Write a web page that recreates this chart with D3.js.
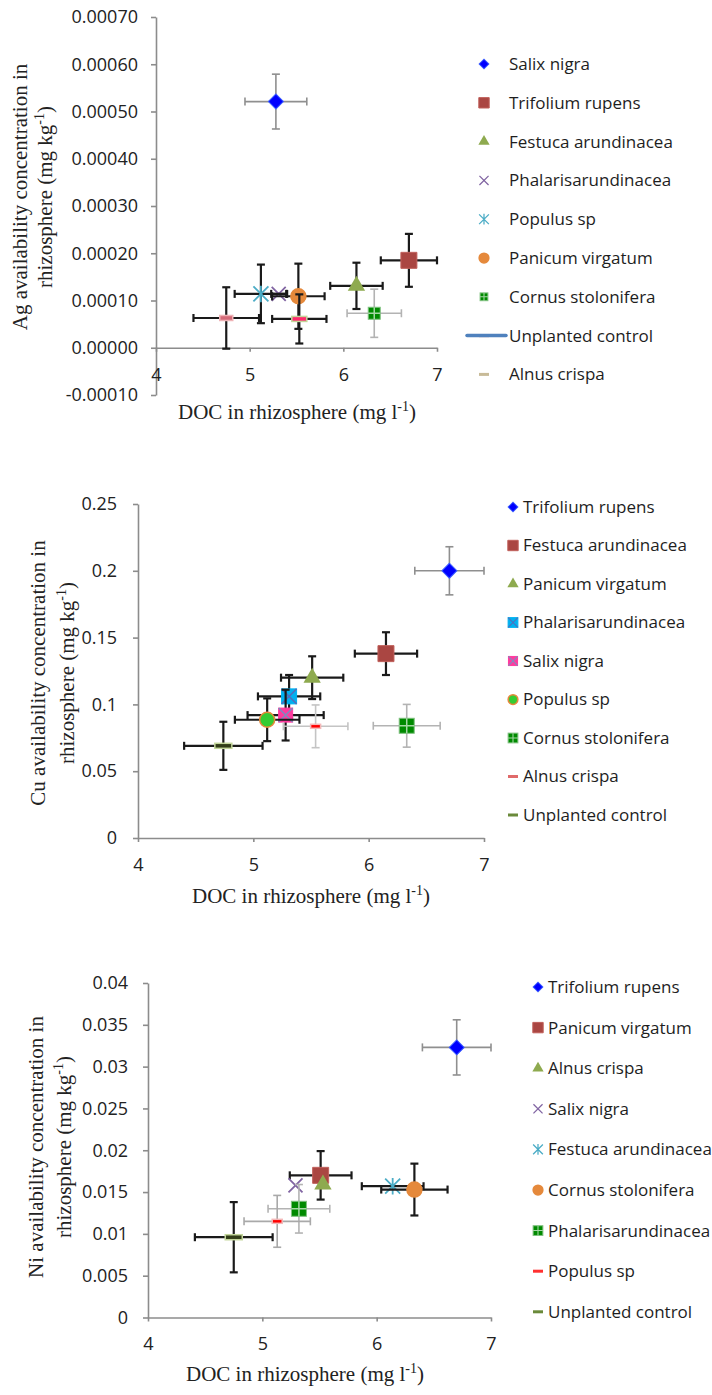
<!DOCTYPE html>
<meta charset="utf-8">
<head>
  <style>
    body { margin: 0; background: #fff; }
    .axis text { font-family: "Open Sans", sans-serif; font-size: 18px; fill: #222; }
    .axis-title { font-family: "Liberation Serif", serif; font-size: 21px; fill: #222; }
    .legend text { font-family: "Open Sans", sans-serif; font-size: 17px; fill: #1e1e1e; }
  </style>
</head>
<body>
<svg id="chart" width="712" height="1395"></svg>
<script src="https://d3js.org/d3.v7.min.js"></script>
<script>

var docTicks = [4, 5, 6, 7];

// Ag panel
var agSpecies = ["Salix nigra", "Trifolium rupens", "Festuca arundinacea", "Phalarisarundinacea", "Populus sp",
                 "Panicum virgatum", "Cornus stolonifera", "Unplanted control", "Alnus crispa"];
var agDoc     = [5.28, 6.70, 6.14, 5.31, 5.12, 5.52, 6.33, 4.75, 5.53];
var agDocErr  = [0.33, 0.30, 0.28, 0.08, 0.28, 0.28, 0.29, 0.35, 0.29];
var agConc    = [0.000521, 0.000185, 0.000131, 0.000114, 0.000114, 0.000109, 0.000073, 0.000063, 0.000061];
var agConcErr = [0.000058, 0.000056, 0.000049, 0, 0.000062, 0.000069, 0.000051, 0.000065, 0.000052];
var agTicks   = [-0.0001, 0, 0.0001, 0.0002, 0.0003, 0.0004, 0.0005, 0.0006, 0.0007];

// Cu panel
var cuSpecies = ["Trifolium rupens", "Festuca arundinacea", "Panicum virgatum", "Phalarisarundinacea", "Salix nigra",
                 "Populus sp", "Cornus stolonifera", "Alnus crispa", "Unplanted control"];
var cuDoc     = [6.70, 6.15, 5.51, 5.31, 5.28, 5.12, 6.33, 5.54, 4.74];
var cuDocErr  = [0.30, 0.27, 0.27, 0.27, 0.33, 0.28, 0.29, 0.28, 0.34];
var cuConc    = [0.200, 0.138, 0.120, 0.106, 0.092, 0.0885, 0.084, 0.0836, 0.069];
var cuConcErr = [0.018, 0.016, 0.016, 0.016, 0.019, 0.016, 0.016, 0.016, 0.018];
var cuTicks   = [0, 0.05, 0.1, 0.15, 0.2, 0.25];

// Ni panel
var niSpecies = ["Trifolium rupens", "Panicum virgatum", "Alnus crispa", "Salix nigra", "Festuca arundinacea",
                 "Cornus stolonifera", "Phalarisarundinacea", "Populus sp", "Unplanted control"];
var niDoc     = [6.70, 5.51, 5.53, 5.29, 6.14, 6.33, 5.32, 5.13, 4.75];
var niDocErr  = [0.30, 0.27, 0, 0, 0.27, 0.29, 0.27, 0.29, 0.34];
var niConc    = [0.0323, 0.0170, 0.0159, 0.0158, 0.0157, 0.0153, 0.0130, 0.0115, 0.0096];
var niConcErr = [0.0033, 0.0029, 0, 0, 0, 0.0031, 0.0029, 0.0031, 0.0042];
var niTicks   = [0, 0.005, 0.01, 0.015, 0.02, 0.025, 0.03, 0.035, 0.04];

// marker styles (kept apart from the values)
var blueDiamond = { shape: "diamond", size: 15, fill: "#0000ff", stroke: "#3a5cff", bar: "#8f8f8f", barW: 1.6 };
var brownSquare = { shape: "square", size: 16, fill: "#aa4642", stroke: "#c0605b", bar: "#1a1a1a", barW: 2.2 };
var greenTri    = { shape: "triangle", size: 17, fill: "#8eaa4f", stroke: "#8eaa4f", bar: "#1a1a1a", barW: 2.2 };
var purpleX     = { shape: "x", size: 14, stroke: "#8064a2", bar: "#1a1a1a", barW: 2.2 };
var cyanStar    = { shape: "asterisk", size: 15, stroke: "#4bacc6", bar: "#1a1a1a", barW: 2.2 };
var orangeDot   = { shape: "circle", size: 15, fill: "#e5893b", stroke: "#e5893b", bar: "#1a1a1a", barW: 2.2 };
var greenCross  = { shape: "squarecross", size: 14, fill: "#008a00", cross: "#a5d7a5", bar: "#b3b3b3", barW: 1.6 };

var agStyle = [blueDiamond, brownSquare, greenTri,
  Object.assign({}, purpleX), cyanStar, orangeDot,
  Object.assign({}, greenCross, { size: 12 }),
  { shape: "dash", w: 13, h: 5, fill: "#d46a78", stroke: "#efb3b6", bar: "#1a1a1a", barW: 2.2,
    legend: { line: "#4f81bd", fill: "#a84a3f" } },
  { shape: "dash", w: 15, h: 5, fill: "#ff2a6d", stroke: "#c3d69b", bar: "#1a1a1a", barW: 2.2,
    legend: { fill: "#c8bb98" } }];

var cuStyle = [blueDiamond, brownSquare, greenTri,
  { shape: "squarex", size: 15, fill: "#00b0f0", cross: "#4f6fbd", bar: "#1a1a1a", barW: 2.2 },
  { shape: "squarex", size: 14, fill: "#ff3a9e", cross: "#7d8cc0", bar: "#1a1a1a", barW: 2.2 },
  { shape: "circle", size: 15, fill: "#33cc33", stroke: "#e5893b", bar: "#1a1a1a", barW: 2.2 },
  Object.assign({}, greenCross, { size: 15 }),
  { shape: "dash", w: 10, h: 4, fill: "#ff0000", stroke: "#f4b8b8", bar: "#c4c4c4", barW: 1.6,
    legend: { fill: "#e06a6a" } },
  { shape: "dash", w: 17, h: 5, fill: "#323d18", stroke: "#c3d69b", bar: "#1a1a1a", barW: 2.2,
    legend: { fill: "#6a8a3a" } }];

var niStyle = [blueDiamond, brownSquare, greenTri, purpleX, cyanStar, orangeDot,
  Object.assign({}, greenCross, { size: 15 }),
  { shape: "dash", w: 10, h: 4, fill: "#ff0000", stroke: "#f4b8b8", bar: "#a9a9a9", barW: 1.6,
    legend: { fill: "#ff3030" } },
  { shape: "dash", w: 17, h: 5, fill: "#323d18", stroke: "#c3d69b", bar: "#1a1a1a", barW: 2.2,
    legend: { fill: "#6a8a3a" } }];

var sciFmt = function(d) { return d.toFixed(5); };
var plainFmt = function(d) { return String(+d.toFixed(4)); };

var panels = [
  { metal: "Ag", species: agSpecies, doc: agDoc, docErr: agDocErr, conc: agConc, concErr: agConcErr, style: agStyle,
    yTicks: agTicks, yDomain: [-0.0001, 0.0007], fmt: sciFmt,
    xRange: [156, 437], yRange: [395, 17], xPad: 16, yPad: 13,
    yTitle: { x1: 27, x2: 52, cy: 197 }, xTitle: { cx: 297, y: 419 },
    legend: { mx: 484, tx: 509, y0: 64, dy: 38.8 } },
  { metal: "Cu", species: cuSpecies, doc: cuDoc, docErr: cuDocErr, conc: cuConc, concErr: cuConcErr, style: cuStyle,
    yTicks: cuTicks, yDomain: [0, 0.25], fmt: plainFmt,
    xRange: [138, 484], yRange: [838, 504], xPad: 16, yPad: 16,
    yTitle: { x1: 45, x2: 74, cy: 673 }, xTitle: { cx: 311, y: 903 },
    legend: { mx: 513, tx: 523, y0: 507, dy: 38.5 } },
  { metal: "Ni", species: niSpecies, doc: niDoc, docErr: niDocErr, conc: niConc, concErr: niConcErr, style: niStyle,
    yTicks: niTicks, yDomain: [0, 0.04], fmt: plainFmt,
    xRange: [148, 491], yRange: [1317.5, 983], xPad: 16, yPad: 15,
    yTitle: { x1: 43, x2: 71, cy: 1147 }, xTitle: { cx: 305, y: 1381 },
    legend: { mx: 538, tx: 548, y0: 987, dy: 40.6 } }
];

var svg = d3.select("#chart");

function drawMarker(g, st, scale) {
  var k = scale || 1;
  var s = (st.size || 10) * k;
  if (st.shape == "diamond") {
    g.append("path").attr("d", d3.symbol(d3.symbolSquare, s * s / 2)())
      .attr("transform", "rotate(45)").attr("fill", st.fill).attr("stroke", st.stroke).attr("stroke-width", 1);
  } else if (st.shape == "square") {
    g.append("path").attr("d", d3.symbol(d3.symbolSquare, s * s)())
      .attr("fill", st.fill).attr("stroke", st.stroke).attr("stroke-width", 1);
  } else if (st.shape == "triangle") {
    g.append("path").attr("d", d3.symbol(d3.symbolTriangle, s * s * 0.45)())
      .attr("fill", st.fill);
  } else if (st.shape == "circle") {
    g.append("circle").attr("r", s / 2).attr("fill", st.fill).attr("stroke", st.stroke).attr("stroke-width", 1.5);
  } else if (st.shape == "x" || st.shape == "asterisk") {
    var h = s / 2;
    var p = d3.path();
    p.moveTo(-h, -h); p.lineTo(h, h); p.moveTo(-h, h); p.lineTo(h, -h);
    if (st.shape == "asterisk") { p.moveTo(0, -h * 1.1); p.lineTo(0, h * 1.1); }
    g.append("path").attr("d", p.toString()).attr("fill", "none").attr("stroke", st.stroke).attr("stroke-width", 1.8 * Math.max(k, 0.7));
  } else if (st.shape == "squarecross" || st.shape == "squarex") {
    var h2 = s / 2;
    g.append("rect").attr("x", -h2).attr("y", -h2).attr("width", s).attr("height", s)
      .attr("fill", st.fill).attr("stroke", st.shape == "squarex" ? st.fill : "#7fc07f").attr("stroke-width", 1);
    var q = d3.path();
    if (st.shape == "squarecross") { q.moveTo(-h2, 0); q.lineTo(h2, 0); q.moveTo(0, -h2); q.lineTo(0, h2); }
    else { q.moveTo(-h2, -h2); q.lineTo(h2, h2); q.moveTo(-h2, h2); q.lineTo(h2, -h2); }
    g.append("path").attr("d", q.toString()).attr("stroke", st.cross).attr("stroke-width", 1.5 * Math.max(k, 0.7));
  } else if (st.shape == "dash") {
    g.append("rect").attr("x", -st.w * k / 2).attr("y", -st.h / 2).attr("width", st.w * k).attr("height", st.h)
      .attr("fill", st.fill).attr("stroke", st.stroke).attr("stroke-width", 1.5);
  }
}

function drawPanel(p) {
  var x = d3.scaleLinear().domain([4, 7]).range(p.xRange);
  var y = d3.scaleLinear().domain(p.yDomain).range(p.yRange);
  var g = svg.append("g").attr("class", "panel-" + p.metal);

  g.append("g").attr("class", "axis")
    .attr("transform", "translate(" + x(4) + ",0)")
    .call(d3.axisLeft(y).tickValues(p.yTicks).tickFormat(p.fmt).tickSize(5).tickSizeOuter(0).tickPadding(p.yPad));
  g.append("g").attr("class", "axis")
    .attr("transform", "translate(0," + y(0) + ")")
    .call(d3.axisBottom(x).tickValues(docTicks).tickFormat(d3.format("d")).tickSize(4).tickSizeOuter(0).tickPadding(p.xPad));
  g.selectAll(".axis .domain, .axis line").attr("stroke", "#8c8c8c").attr("stroke-width", 1.6);

  // axis titles
  var yt = g.append("g").attr("transform", "translate(0," + p.yTitle.cy + ")");
  yt.append("text").attr("class", "axis-title").attr("text-anchor", "middle")
    .attr("transform", "translate(" + p.yTitle.x1 + ",0) rotate(-90)")
    .text(p.metal + " availability concentration in");
  var t2 = yt.append("text").attr("class", "axis-title").attr("text-anchor", "middle")
    .attr("transform", "translate(" + p.yTitle.x2 + ",0) rotate(-90)");
  t2.append("tspan").text("rhizosphere (mg kg");
  t2.append("tspan").attr("dy", -8).attr("font-size", 14).text("-1");
  t2.append("tspan").attr("dy", 8).text(")");

  var xt = g.append("text").attr("class", "axis-title").attr("text-anchor", "middle")
    .attr("x", p.xTitle.cx).attr("y", p.xTitle.y);
  xt.append("tspan").text("DOC in rhizosphere (mg l");
  xt.append("tspan").attr("dy", -8).attr("font-size", 14).text("-1");
  xt.append("tspan").attr("dy", 8).text(")");

  var rows = p.species.map(function(name, i) {
    return { name: name, x: p.doc[i], xe: p.docErr[i], y: p.conc[i], ye: p.concErr[i], st: p.style[i] };
  });

  var cap = 4;
  var series = g.selectAll(".series").data(rows).join("g").attr("class", "series");
  series.each(function(d) {
    var s = d3.select(this);
    var cx = x(d.x), cy = y(d.y);
    var bars = s.append("g").attr("stroke", d.st.bar).attr("stroke-width", d.st.barW).attr("fill", "none");
    if (d.xe > 0) {
      var xl = x(d.x - d.xe), xr = x(d.x + d.xe);
      bars.append("line").attr("x1", xl).attr("x2", xr).attr("y1", cy).attr("y2", cy);
      bars.append("line").attr("x1", xl).attr("x2", xl).attr("y1", cy - cap).attr("y2", cy + cap);
      bars.append("line").attr("x1", xr).attr("x2", xr).attr("y1", cy - cap).attr("y2", cy + cap);
    }
    if (d.ye > 0) {
      var yb = y(d.y - d.ye), ytp = y(d.y + d.ye);
      bars.append("line").attr("x1", cx).attr("x2", cx).attr("y1", yb).attr("y2", ytp);
      bars.append("line").attr("x1", cx - cap).attr("x2", cx + cap).attr("y1", yb).attr("y2", yb);
      bars.append("line").attr("x1", cx - cap).attr("x2", cx + cap).attr("y1", ytp).attr("y2", ytp);
    }
    drawMarker(s.append("g").attr("transform", "translate(" + cx + "," + cy + ")"), d.st, 1);
  });

  // legend
  var L = p.legend;
  var items = g.append("g").attr("class", "legend").selectAll("g").data(rows).join("g")
    .attr("transform", function(d, i) { return "translate(0," + (L.y0 + i * L.dy) + ")"; });
  items.each(function(d) {
    var it = d3.select(this);
    var mg = it.append("g").attr("transform", "translate(" + L.mx + ",0)");
    if (d.st.shape == "dash") {
      var lg = d.st.legend;
      if (lg.line) {
        it.append("line").attr("x1", L.mx - 17).attr("x2", L.tx - 3).attr("y1", 0).attr("y2", 0)
          .attr("stroke", lg.line).attr("stroke-width", 3.5).attr("stroke-linecap", "round");
      }
      mg.append("rect").attr("x", -5).attr("y", -1.5).attr("width", 10).attr("height", 3).attr("fill", lg.fill);
    } else {
      drawMarker(mg, d.st, 0.65);
    }
    it.append("text").attr("x", L.tx).attr("y", 0).attr("dy", "0.35em").text(d.name);
  });
}

panels.forEach(drawPanel);
</script>
</body>
